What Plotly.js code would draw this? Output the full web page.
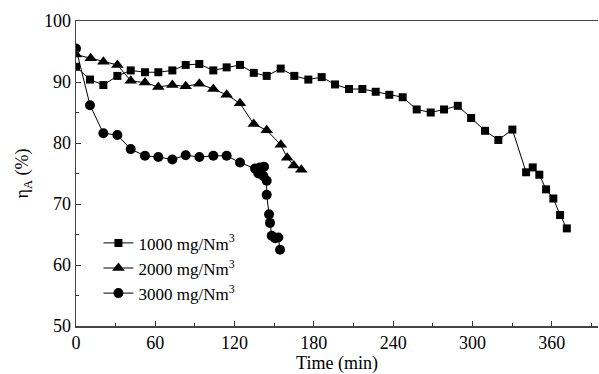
<!DOCTYPE html>
<html>
<head>
<meta charset="utf-8">
<script src="https://cdn.plot.ly/plotly-3.0.1.min.js"></script>
<style>html,body{margin:0;padding:0;background:#fff;}#chart{width:599px;height:374px;}</style>
</head>
<body>
<div id="chart"></div>
<script>
// 1000 mg/Nm3
const t1000 = [0, 10.6, 20.7, 31.3, 41.4, 52.2, 62.3, 72.9, 83, 93.3, 103.9, 114, 124.1, 134.5, 144.3, 154.9, 165.2, 175.8, 185.9, 196, 206.6, 216.7, 226.8, 237.1, 247.2, 257.8, 268.4, 278.5, 288.9, 299, 309.5, 319.6, 330.2, 340.6, 345.6, 350.6, 355.7, 361.2, 366.3, 371.4];
const y1000 = [92.5, 90.4, 89.5, 91.0, 91.9, 91.6, 91.6, 91.9, 92.8, 92.95, 91.9, 92.4, 92.8, 91.5, 91.0, 92.2, 91.0, 90.4, 90.8, 89.6, 88.85, 88.85, 88.4, 87.9, 87.5, 85.5, 85.0, 85.5, 86.1, 84.1, 82.0, 80.5, 82.2, 75.2, 76.0, 74.8, 72.4, 70.9, 68.2, 66.0];
// 2000 mg/Nm3
const t2000 = [0, 11.1, 20.7, 31.3, 41.4, 52.2, 62.3, 72.9, 83, 93.3, 103.9, 114, 124.1, 134.5, 144.3, 155, 159.8, 164.8, 170.5];
const y2000 = [94.5, 93.9, 93.3, 92.8, 90.2, 89.9, 89.2, 89.5, 89.3, 89.7, 88.85, 87.9, 86.5, 83.1, 82.1, 79.7, 77.6, 76.3, 75.6];
// 3000 mg/Nm3
const t3000 = [0, 10.6, 20.7, 31.3, 41.4, 52.2, 62.3, 72.9, 83, 93.3, 103.9, 114, 124.1, 135.5, 139.3, 142.3, 138, 141.8, 144.3, 144.3, 146.1, 146.8, 148.1, 150.6, 153.1, 154.4];
const y3000 = [95.5, 86.2, 81.6, 81.3, 79.0, 77.9, 77.7, 77.3, 78.0, 77.7, 77.9, 77.9, 76.8, 75.8, 76.0, 76.1, 75.0, 74.6, 73.8, 71.5, 68.3, 66.9, 64.8, 64.4, 64.5, 62.5];
const seriesNames = ['1000 mg/Nm<sup>3</sup>', '2000 mg/Nm<sup>3</sup>', '3000 mg/Nm<sup>3</sup>'];

const font = "'Liberation Serif', serif";
const lineStyle = {color: '#000', width: 1};
const traces = [
  {x: t1000, y: y1000, name: seriesNames[0], mode: 'lines+markers', line: lineStyle, marker: {symbol: 'square', size: 8, color: '#000'}},
  {x: t2000, y: y2000, name: seriesNames[1], mode: 'lines+markers', line: lineStyle, marker: {symbol: 'triangle-up', size: 11, color: '#000'}},
  {x: t3000, y: y3000, name: seriesNames[2], mode: 'lines+markers', line: lineStyle, marker: {symbol: 'circle', size: 10, color: '#000'}}
];

const layout = {
  width: 599, height: 374,
  margin: {l: 76, r: 1, t: 21, b: 48},
  paper_bgcolor: '#fff', plot_bgcolor: '#fff',
  font: {family: font, color: '#000', size: 18},
  showlegend: true,
  legend: {x: 0.043, y: 0.33, xanchor: 'left', yanchor: 'top', bgcolor: 'rgba(0,0,0,0)', font: {family: font, size: 17, color: '#000'}, tracegroupgap: 0},
  xaxis: {
    range: [0, 395], tickvals: [0, 60, 120, 180, 240, 300, 360],
    ticks: 'inside', ticklen: 5, tickwidth: 1, tickcolor: '#333',
    minor: {dtick: 30, tick0: 0, ticks: 'inside', ticklen: 3, tickcolor: '#333'},
    showline: true, linecolor: '#444', linewidth: 1.5, mirror: true,
    showgrid: false, zeroline: false,
    tickfont: {family: font, size: 18, color: '#000'},
    title: {text: 'Time (min)', font: {family: font, size: 18, color: '#000'}, standoff: 4}
  },
  yaxis: {
    range: [50, 100], tickvals: [50, 60, 70, 80, 90, 100],
    ticks: 'inside', ticklen: 5, tickwidth: 1, tickcolor: '#333',
    minor: {dtick: 5, tick0: 50, ticks: 'inside', ticklen: 3, tickcolor: '#333'},
    showline: true, linecolor: '#444', linewidth: 1.5,
    showgrid: false, zeroline: false,
    tickfont: {family: font, size: 18, color: '#000'},
    title: {text: 'η<sub>A</sub> (%)', font: {family: font, size: 18, color: '#000'}, standoff: 10}
  }
};

Plotly.newPlot('chart', traces, layout, {staticPlot: true, displayModeBar: false});
</script>
</body>
</html>
